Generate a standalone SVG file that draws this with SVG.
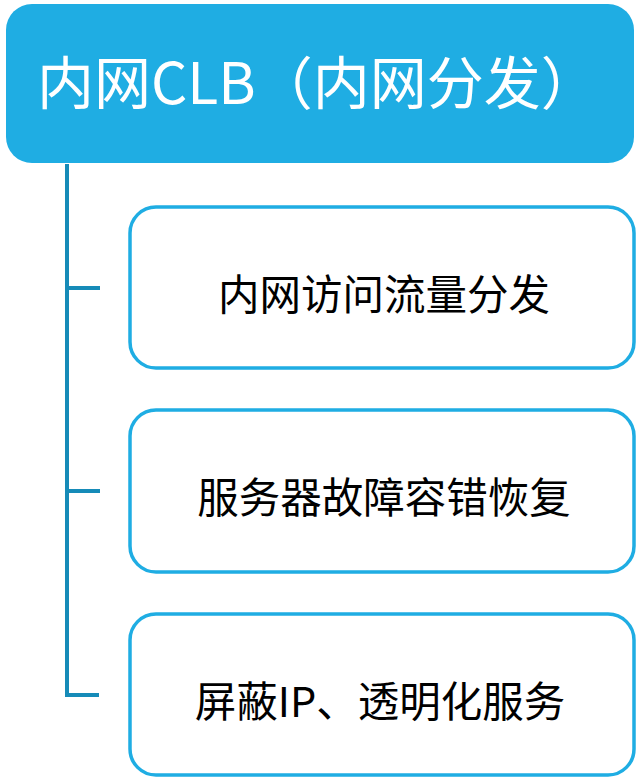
<svg xmlns="http://www.w3.org/2000/svg" width="640" height="778" viewBox="0 0 640 778">
<style>
.box{fill:#ffffff;stroke:#1fade3;stroke-width:3.5}
.lbl{font-family:"Noto Sans CJK SC","Noto Sans",sans-serif;font-size:41.5px;fill:#000000;text-anchor:middle}
.conn{fill:none;stroke:#168bb8;stroke-width:4}
</style>
<rect width="640" height="778" fill="#ffffff"/>
<g id="connectors">
<path class="conn" d="M67,164 V695 H99"/>
<path class="conn" d="M67,288 H100"/>
<path class="conn" d="M67,491 H100"/>
</g>
<g id="header">
<rect x="6" y="4" width="628" height="159" rx="26" ry="26" fill="#1fade3"/>
<text x="37" y="104" font-family="'Noto Sans CJK SC','Noto Sans',sans-serif" font-size="57" fill="#ffffff">内网CLB（内网分发）</text>
</g>
<g id="node1">
<rect class="box" x="130" y="207" width="504" height="161" rx="26" ry="26"/>
<text class="lbl" x="384" y="310">内网访问流量分发</text>
</g>
<g id="node2">
<rect class="box" x="130" y="410" width="504" height="162" rx="26" ry="26"/>
<text class="lbl" x="384" y="513">服务器故障容错恢复</text>
</g>
<g id="node3">
<rect class="box" x="130" y="614" width="504" height="161" rx="26" ry="26"/>
<text class="lbl" x="380" y="717">屏蔽IP、透明化服务</text>
</g>
</svg>
